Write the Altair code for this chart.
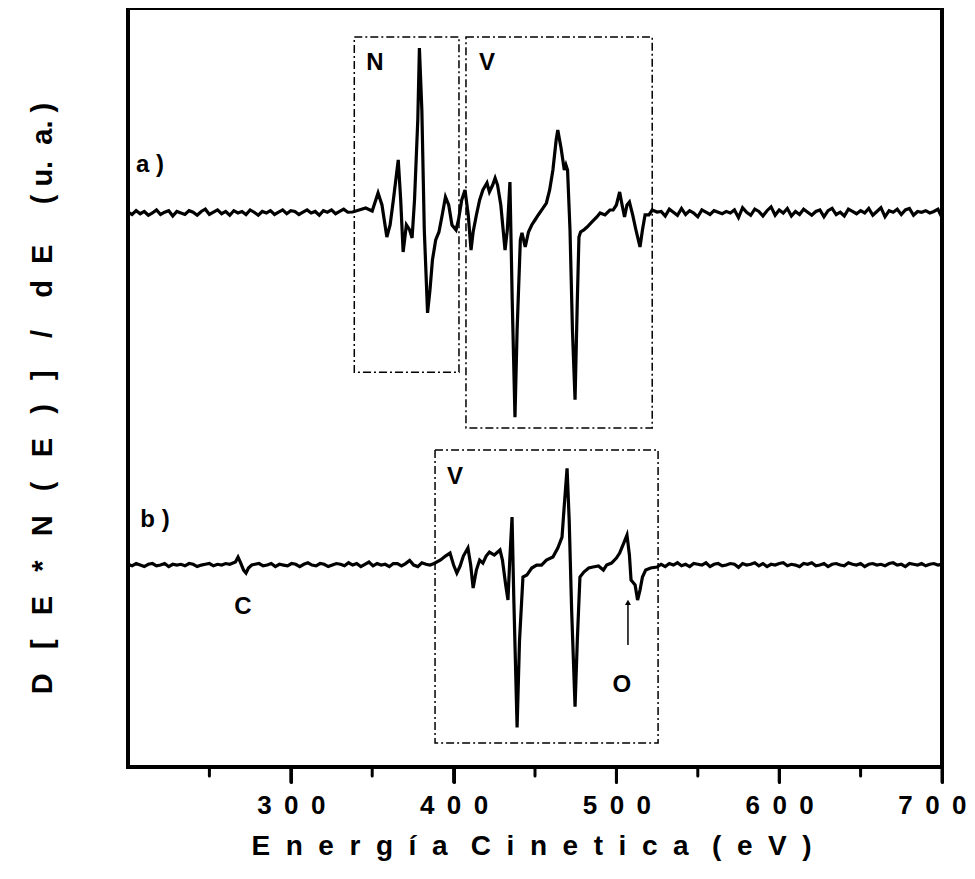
import altair as alt
import pandas as pd

# ---------------- data ----------------
# spectrum a) : N + V region, values in arbitrary units relative to its baseline
a_left_noise = [0.1,-0.2,0.3,-0.1,0.2,-0.3,0.0,0.4,-0.2,0.1,
                0.3,-0.4,0.2,0.0,-0.2,0.3,0.1,-0.3,0.2,0.5,
                -0.2,0.1,0.4,-0.1,0.2,-0.3,0.3,0.0,0.2,-0.2,
                0.4,0.1,-0.3,0.2,0.0,0.3,-0.2,0.1,0.4,-0.1,
                0.3,0.2,-0.2,0.1,0.4,0.0,0.2,-0.3,0.3,0.1,
                0.4,-0.1,0.2,0.5,0.1]
a_feat_E = [338,342,346,350,353.6,356,359,361,363,366,367.5,369,371,373,374.5,376,378,379,380.5,382,
            384,385.5,387,389,391,393,395,397,399,401.5,403,405,407,409,410.7,412,414,416,418,420.5,
            422,424,425.5,427,429,431.6,433,434.6,436,437.7,439,441,442,444,446,448,450,452,455,457,
            459,461,463,464,466,468,469,470,471.5,473,474.6,476,477,478,480,482,485,488,490,493,
            496,498,500,502,503.5,505,506.5,508,510,512,514.5,516,517.6,520,522,525]
a_feat_v = [0.13,0.39,0.66,0.26,2.62,1.05,-3.15,-1.57,1.71,6.96,1.71,-5.12,-1.57,-2.23,-3.28,1.71,12.2,21.65,13.5,-2.23,
            -13.1,-10.1,-6.17,-3.54,-2.49,-0.26,2.1,1.05,-1.57,-2.23,-0.92,1.71,3.02,-0.26,-4.86,-2.49,-0.26,1.71,3.02,3.94,
            2.76,3.67,4.59,3.67,1.05,-4.86,-2.23,4.07,-11.4,-26.8,-15.4,-3.54,-2.62,-4.46,-2.49,-1.57,-0.92,-0.26,0.66,1.31,
            3.02,5.64,9.58,10.9,8.53,5.64,6.3,5.64,-2.23,-15.4,-24.5,-11.4,-3.15,-2.49,-2.23,-1.84,-1.18,-0.52,0.0,-0.26,
            0.39,0.39,1.05,2.76,1.05,-0.52,1.05,1.44,-0.26,-2.23,-4.46,-2.23,-0.26,-0.26,0.39,0.13]
a_right_noise = [0.2,-0.4,0.5,0.1,-0.3,0.6,-0.2,0.3,0.0,-0.5,
                 0.4,0.1,-0.2,0.3,0.1,-0.1,0.2,0.0,0.4,-0.6,
                 0.7,0.1,-0.3,0.5,0.2,-0.4,0.3,0.8,-0.3,0.4,
                 0.0,0.6,-0.4,0.2,-0.2,0.5,0.1,-0.3,0.2,0.4,
                 -0.5,0.3,0.6,-0.2,0.1,-0.4,0.5,0.2,-0.1,0.3,
                 0.0,0.6,-0.3,0.2,0.7,-0.5,0.3,0.1,0.5,-0.2,
                 0.4,0.6,-0.3,0.2,0.1,0.3,0.0,0.2,0.5,-0.6]

# spectrum b) : C + V + O region
b_left_noise1 = [0.1,-0.1,0.2,0.0,-0.2,0.1,0.2,-0.1,0.0,0.2,
                 -0.2,0.1,0.0,0.1,-0.1,0.2,0.1,-0.2,0.0,0.1,
                 0.2,-0.1,0.1,0.0,0.2,0.1]
b_c_E = [266,267.6,269,271,272.5,274,276]
b_c_v = [0.39,1.05,0.39,-0.66,-1.05,-0.39,0.0]
b_left_noise2 = [0.1,0.2,-0.1,0.0,0.2,-0.2,0.1,0.0,-0.1,0.2,
                 0.1,-0.2,0.1,0.3,0.0,-0.1,0.2,0.1,-0.2,0.0,
                 0.2,0.1,-0.1,0.3,0.0,0.2,-0.2,0.1,0.4,-0.1,
                 0.2,0.0,0.1,-0.2,0.2,0.2,-0.1,0.2,0.6,0.0,
                 -0.2,0.3,0.1,0.0,0.2]
b_feat_E = [392,395,397.8,400,402,404,406,408.8,410.5,412,414,416,418,420,422,425,428.5,430,432,433.4,
            434.5,435.9,437,439,440.5,442.6,445,448,451,454,457,461,464,466.6,468,469.7,471,472.5,474.6,476,
            477.6,480,483,485.6,489,492,494,497,500,502,504,506.5,508,509,510,511.5,513,514.5,516,518,
            521,525]
b_feat_v = [0.66,1.18,1.57,0.0,-1.05,-0.13,1.18,2.23,0.0,-3.02,-0.66,0.66,0.26,1.18,1.71,1.31,1.97,0.66,-2.62,-4.59,
            0.66,6.3,-4.59,-21.3,-9.84,-1.57,-1.31,-0.39,0.0,0.0,0.66,1.05,2.23,3.67,7.87,12.7,5.9,-5.9,-18.6,-9.84,
            -1.57,-0.92,-0.39,-0.26,-0.13,-0.66,0.0,0.26,0.92,1.57,2.62,3.94,1.31,-1.97,-2.23,-2.62,-4.59,-3.28,-1.57,-0.66,
            -0.39,-0.26]
b_right_noise = [0.1,-0.2,0.2,0.0,0.3,-0.1,0.1,-0.2,0.2,0.1,
                 0.0,0.3,-0.2,0.1,0.2,-0.1,0.0,0.2,0.1,-0.3,
                 0.2,0.0,0.1,0.3,-0.1,0.2,-0.2,0.1,0.0,0.2,
                 0.3,-0.1,0.1,0.0,-0.2,0.2,0.1,0.3,-0.1,0.0,
                 0.2,-0.2,0.1,0.2,0.0,-0.1,0.3,0.1,0.0,0.2,
                 -0.2,0.1,0.2,0.0,0.1,-0.1,0.2,0.3,0.0,0.1,
                 -0.2,0.2,0.1,0.0,0.2,-0.1,0.1,0.2,0.0,0.1]

offset_a = 72.7
offset_b = 26.5

# dashed boxes (E1, E2, y1, y2)
box_E1 = [339.0, 407.6, 388.6]
box_E2 = [403.3, 522.0, 525.6]
box_y1 = [51.8, 44.5, 3.15]
box_y2 = [95.8, 95.8, 41.6]

# annotations
ann_text = ["N", "V", "V", "a )", "b )", "C", "O"]
ann_E = [351.7, 420.5, 400.9, 213.5, 216.6, 270.6, 503.4]
ann_y = [92.4, 92.4, 38.1, 79.0, 32.4, 21.0, 10.8]

arrow_E = [507.1]
arrow_y1 = [16.0]
arrow_y2 = [21.6]

major_ticks = [300, 400, 500, 600, 700]
minor_ticks = [250, 350, 450, 550, 650]

x_title_words = ["Energía", "Cinetica", "(eV)"]
y_title_parts = ["D[E*N(E)]", "/", "dE", "(u. a.)"]

# ---------------- build tables ----------------
NB = "\u00a0"
TH = "\u2009"

def grid(start, step, n):
    return [start + step * i for i in range(n)]

def spaced(word, n):
    return (NB * n).join(list(word.replace(" ", "")))

rows = []
for e, v in zip(grid(200, 2.5, len(a_left_noise)), a_left_noise):
    rows.append(("a", e, v + offset_a))
for e, v in zip(a_feat_E, a_feat_v):
    rows.append(("a", e, v + offset_a))
for e, v in zip(grid(527.5, 2.5, len(a_right_noise)), a_right_noise):
    rows.append(("a", e, v + offset_a))
for e, v in zip(grid(200, 2.5, len(b_left_noise1)), b_left_noise1):
    rows.append(("b", e, v + offset_b))
for e, v in zip(b_c_E, b_c_v):
    rows.append(("b", e, v + offset_b))
for e, v in zip(grid(278, 2.5, len(b_left_noise2)), b_left_noise2):
    rows.append(("b", e, v + offset_b))
for e, v in zip(b_feat_E, b_feat_v):
    rows.append(("b", e, v + offset_b))
for e, v in zip(grid(527.5, 2.5, len(b_right_noise)), b_right_noise):
    rows.append(("b", e, v + offset_b))
spec = pd.DataFrame(rows, columns=["serie", "E", "v"]).sort_values(["serie", "E"])

boxes = pd.DataFrame({"E1": box_E1, "E2": box_E2, "y1": box_y1, "y2": box_y2})
ann = pd.DataFrame({"t": ann_text, "E": ann_E, "y": ann_y})
arrow = pd.DataFrame({"E": arrow_E, "y1": arrow_y1, "y2": arrow_y2})
minor = pd.DataFrame({"E": minor_ticks})
major = pd.DataFrame({"E": major_ticks})

x_title = (NB * 3).join(spaced(w, 2) for w in x_title_words)
y_title = (spaced(y_title_parts[0], 3) + NB * 4 + y_title_parts[1] + NB * 4
           + spaced(y_title_parts[2], 2) + NB * 5
           + "(" + NB + "u." + NB * 2 + "a." + NB + ")")

W, H = 814, 759
FONT = "Liberation Sans"

xscale = alt.Scale(domain=[200, 700], nice=False, zero=False)
yscale = alt.Scale(domain=[0, 99.6], nice=False, zero=False)

x_axis = alt.Axis(
    values=major_ticks, grid=False, domain=False,
    tickSize=15, tickWidth=3, tickColor="black", tickCap="round",
    labelExpr="join(split(datum.label, ''), '" + NB + TH + "')",
    labelFont=FONT, labelFontSize=26, labelFontWeight="bold", labelColor="black",
    labelBaseline="alphabetic", labelPadding=31, labelFlush=False, labelOverlap=False,
    labelAlign=alt.ExprRef("datum.value == 700 ? 'right' : 'center'"),
    labelOffset=alt.ExprRef("datum.value == 700 ? 24 : 0"),
    title=x_title,
    titleFont=FONT, titleFontSize=28, titleFontWeight="bold", titleColor="black",
    titleX=403, titleY=87, titleBaseline="alphabetic", titleAlign="center",
)
y_axis = alt.Axis(
    labels=False, ticks=False, domain=False, grid=False,
    title=y_title,
    titleFont=FONT, titleFontSize=29, titleFontWeight="bold", titleColor="black",
    titleX=-86, titleY=390, titleAngle=270, titleAlign="center", titleBaseline="middle",
)

lines = alt.Chart(spec).mark_line(color="black", strokeWidth=3.2, clip=True).encode(
    x=alt.X("E:Q", scale=xscale, axis=x_axis),
    y=alt.Y("v:Q", scale=yscale, axis=y_axis),
    detail="serie:N",
)

rects = alt.Chart(boxes).mark_rect(
    fill=None, filled=False, stroke="black", strokeWidth=1.5, strokeDash=[8, 3, 2, 3]
).encode(
    x=alt.X("E1:Q", scale=xscale, axis=x_axis), x2="E2:Q",
    y=alt.Y("y1:Q", scale=yscale, axis=y_axis), y2="y2:Q",
)

texts = alt.Chart(ann).mark_text(
    font=FONT, fontSize=24, fontWeight="bold", color="black", align="center", baseline="middle"
).encode(
    x=alt.X("E:Q", scale=xscale, axis=x_axis),
    y=alt.Y("y:Q", scale=yscale, axis=y_axis),
    text="t:N",
)

arrow_line = alt.Chart(arrow).mark_rule(color="black", strokeWidth=1.5).encode(
    x=alt.X("E:Q", scale=xscale, axis=x_axis),
    y=alt.Y("y1:Q", scale=yscale, axis=y_axis), y2="y2:Q",
)
arrow_head = alt.Chart(arrow).mark_point(
    shape="triangle-up", filled=True, color="black", size=35, opacity=1
).encode(
    x=alt.X("E:Q", scale=xscale, axis=x_axis),
    y=alt.Y("y2:Q", scale=yscale, axis=y_axis),
)

minor_rules = alt.Chart(minor).mark_rule(color="black", strokeWidth=3, strokeCap="round").encode(
    x=alt.X("E:Q", scale=xscale, axis=x_axis),
    y=alt.value(H), y2=alt.value(H + 9),
)
major_rules = alt.Chart(major).mark_rule(color="black", strokeWidth=3, strokeCap="round").encode(
    x=alt.X("E:Q", scale=xscale, axis=x_axis),
    y=alt.value(H), y2=alt.value(H + 15),
)

chart = alt.layer(lines, rects, texts, arrow_line, arrow_head, minor_rules, major_rules).properties(
    width=W, height=H,
    autosize=alt.AutoSizeParams(type="none"),
    padding={"left": 120, "top": 0, "right": 25, "bottom": 105},
    background="white",
).configure_view(stroke="black", strokeWidth=4)

chart.save("out.html", embed_options={"renderer": "svg", "actions": False})
